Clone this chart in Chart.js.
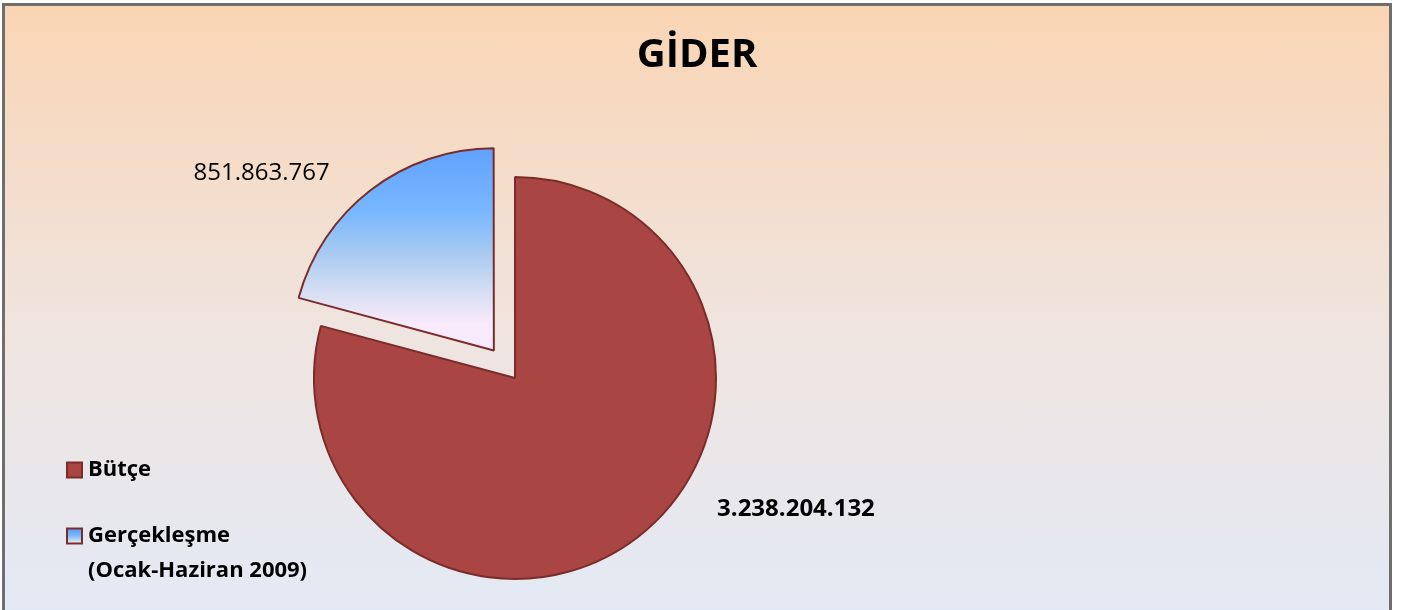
<!DOCTYPE html>
<html lang="tr">
<head>
<meta charset="UTF-8" />
<title>GİDER</title>
<script src="https://cdn.jsdelivr.net/npm/chart.js"></script>
<style>
  html, body { margin: 0; padding: 0; overflow: hidden; width: 1402px; height: 610px; }
  #frame { position: absolute; left: 2px; top: 3px; width: 1384px; height: 640px;
           border: 3px solid #6e6e6e;
           background: linear-gradient(to bottom, #fad5b4 0%, #efe4df 50%, #e2eaf7 100%); }
  canvas { position: absolute; left: 0; top: 0; }
</style>
</head>
<body>
<div id="frame"></div>
<canvas id="giderChart" width="1402" height="610"></canvas>

<script>
  const chartTitle = 'GİDER';
  const categories = ['Bütçe', 'Gerçekleşme (Ocak-Haziran 2009)'];
  const legendLines = [['Bütçe'], ['Gerçekleşme', '(Ocak-Haziran 2009)']];
  const values = [3238204132, 851863767];

  const pieRadius = 201;
  const fontFamily = '"Open Sans", "DejaVu Sans", sans-serif';

  const fmt = v => String(v).replace(/\B(?=(\d{3})+(?!\d))/g, '.');

  function blueFill(c, top, bottom) {
    const g = c.createLinearGradient(0, top, 0, bottom);
    g.addColorStop(0, '#5797ff');
    g.addColorStop(0.45, '#78b7ff');
    g.addColorStop(0.66, '#a8caf0');
    g.addColorStop(0.86, '#d8dff4');
    g.addColorStop(1, '#f7eafa');
    return g;
  }

  // title, value labels and legend drawn by hand (Excel-like placement)
  const chartText = {
    id: 'chartText',
    afterDatasetsDraw(chart, args, opts) {
      const c = chart.ctx;
      const arcs = chart.getDatasetMeta(0).data;
      const cx = arcs[0].x, cy = arcs[0].y;
      c.save();
      c.fillStyle = '#000';
      c.textBaseline = 'middle';
      c.textAlign = 'center';

      c.font = 'bold 40px ' + fontFamily;
      c.fillText(chartTitle, opts.titleX, opts.titleY);

      // value labels, polar position from the pie centre (deg from top, clockwise)
      values.forEach((v, i) => {
        const p = opts.labelPos[i];
        const a = p.angle * Math.PI / 180;
        c.font = (p.bold ? 'bold ' : '') + '24px ' + fontFamily;
        c.fillText(fmt(v), cx + p.dist * Math.sin(a), cy - p.dist * Math.cos(a));
      });

      // legend
      c.textAlign = 'left';
      c.font = 'bold 22px ' + fontFamily;
      legendLines.forEach((lines, i) => {
        const y = opts.legendY[i];
        const bx = opts.legendX, bs = 15;
        c.fillStyle = i === 0 ? '#a94643' : blueFill(c, y - bs / 2, y + bs / 2);
        c.fillRect(bx, y - bs / 2, bs, bs);
        c.strokeStyle = '#7a2c2a';
        c.lineWidth = 2;
        c.strokeRect(bx, y - bs / 2, bs, bs);
        c.fillStyle = '#000';
        lines.forEach((t, j) => c.fillText(t, bx + 21, y + j * 35));
      });
      c.restore();
    }
  };

  const ctx = document.getElementById('giderChart').getContext('2d');
  const giderChart = new Chart(ctx, {
    type: 'pie',
    data: {
      labels: categories,
      datasets: [{
        data: values,
        backgroundColor: (context) => {
          if (context.dataIndex === 0) return '#a94643';
          const a = context.chart.chartArea;
          if (!a) return '#78b7ff';
          const cy = (a.top + a.bottom) / 2;
          return blueFill(context.chart.ctx, cy - pieRadius - 30, cy - 28);
        },
        borderColor: '#7a2c2a',
        borderWidth: 2,
        offset: [0, 139]
      }]
    },
    options: {
      responsive: false,
      animation: false,
      radius: pieRadius,
      layout: { padding: { left: 100, right: 472, top: 177, bottom: 31 } },
      plugins: {
        legend: { display: false },
        title: { display: false },
        tooltip: { enabled: false },
        chartText: {
          titleX: 697,
          titleY: 56,
          labelPos: [
            { angle: 115, dist: 310, bold: true },
            { angle: 309, dist: 326, bold: false }
          ],
          legendX: 67,
          legendY: [470, 536]
        }
      }
    },
    plugins: [chartText]
  });
</script>
</body>
</html>
